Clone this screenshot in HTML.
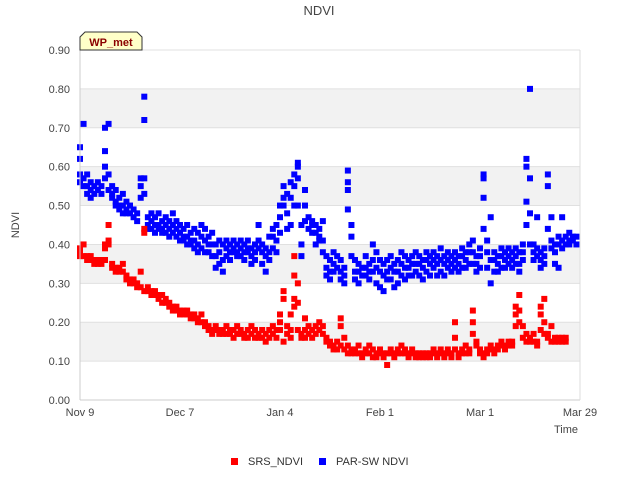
<!DOCTYPE html>
<html><head><meta charset="utf-8"><style>
body{margin:0;background:#fff;font-family:"Liberation Sans",sans-serif}
</style></head><body>
<svg width="640" height="480" xmlns="http://www.w3.org/2000/svg" style="font-family:'Liberation Sans',sans-serif">
<g id="bands"></g>
<g id="grid"></g>
<g id="yt"></g>
<g id="xt"></g>
<g id="marks"></g>
<line x1="80" y1="50" x2="80" y2="400" stroke="#ccc"/>
<line x1="80" y1="400" x2="580" y2="400" stroke="#ccc"/>
<line x1="580" y1="50" x2="580" y2="400" stroke="#ddd"/>
<text x="319" y="15" text-anchor="middle" font-size="13" fill="#444">NDVI</text>
<text transform="translate(19,225) rotate(-90)" text-anchor="middle" font-size="11" fill="#444">NDVI</text>
<text x="578" y="433" text-anchor="end" font-size="11" fill="#444">Time</text>
<g>
<path d="M80,50 L80,37 L85,32 L137,32 L142,37 L142,50 Z" fill="#ffffc8" stroke="#333"/>
<text x="111" y="46" text-anchor="middle" font-size="11" font-weight="bold" fill="#8b0000">WP_met</text>
</g>
<g>
<g><rect x="231" y="458" width="7" height="7" fill="#f00"/><text x="248" y="465" font-size="11" fill="#333">SRS_NDVI</text></g>
<g><rect x="319" y="458" width="7" height="7" fill="#00f"/><text x="336" y="465" font-size="11" fill="#333">PAR-SW NDVI</text></g>
</g>
</svg>
<script>
const yTicks=[0,0.1,0.2,0.3,0.4,0.5,0.6,0.7,0.8,0.9];
const xTickDays=[0,28,56,84,112,140];
const xTickLabels=["Nov 9","Dec 7","Jan 4","Feb 1","Mar 1","Mar 29"];
const parDays=[0,1,2,3,4,5,6,7,8,9,10,11,12,13,14,15,16,17,18,19,20,21,22,23,24,25,26,27,28,29,30,31,32,33,34,35,36,37,38,39,40,41,42,43,44,45,46,47,48,49,50,51,52,53,54,55,56,57,58,59,60,61,62,63,64,65,66,67,68,69,70,71,72,73,74,75,76,77,78,79,80,81,82,83,84,85,86,87,88,89,90,91,92,93,94,95,96,97,98,99,100,101,102,103,104,105,106,107,108,109,110,111,112,113,114,115,116,117,118,119,120,121,122,123,124,125,126,127,128,129,130,131,132,133,134,135,136,137,138,139,140];
const parVals=[[.65,.62,.58,.56],[.71,.57,.55],[.58,.55,.53],[.56,.54,.52],[.55,.53],[.56,.54],[.55,.53],[.70,.64,.60,.57],[.71,.58,.54],[.55,.53,.52],[.54,.51,.50],[.52,.50,.49],[.53,.50,.48],[.51,.49,.48],[.50,.48],[.49,.47],[.48,.46],[.57,.55,.52],[.78,.72,.57,.53],[.47,.45,.44],[.48,.46,.44],[.47,.45,.43],[.48,.45,.44],[.46,.44,.43],[.47,.45,.43],[.46,.44,.42],[.48,.45,.43],[.46,.44,.42],[.45,.43,.41],[.44,.42,.41],[.45,.42,.40],[.43,.41,.40],[.44,.41,.39],[.43,.40,.38],[.45,.42,.39],[.44,.41,.38],[.42,.40,.38],[.43,.40,.37],[.40,.37,.34],[.41,.38,.35],[.40,.36,.33],[.41,.39,.37],[.40,.38,.36],[.41,.39,.38],[.40,.38,.37],[.41,.39,.37],[.40,.38,.36],[.41,.39,.38],[.39,.37,.35],[.40,.38,.36],[.45,.41,.39],[.40,.38,.35],[.39,.37,.33],[.42,.38,.36],[.44,.42,.39],[.45,.41,.38],[.50,.47,.43],[.55,.52,.50],[.53,.48,.44],[.56,.52,.45],[.58,.55,.50],[.61,.60,.57,.50],[.45,.40,.37],[.54,.50,.46],[.47,.44],[.46,.45,.43],[.45,.43,.40],[.44,.42,.41],[.46,.41,.38],[.37,.34,.32],[.36,.33,.31],[.38,.35,.33],[.37,.34],[.36,.33,.31],[.34,.32,.30],[.59,.56,.54,.49],[.45,.42,.37],[.36,.33,.31],[.35,.33,.30],[.34,.32],[.37,.34,.32],[.35,.33,.31],[.40,.36,.33],[.38,.34,.30],[.36,.33,.29],[.35,.32,.28],[.36,.33,.31],[.37,.34,.31],[.35,.33,.29],[.36,.33,.30],[.38,.35,.32],[.37,.34,.31],[.36,.34,.32],[.37,.35,.32],[.38,.35,.33],[.37,.35,.32],[.36,.34,.31],[.38,.36,.33],[.37,.35,.32],[.38,.36,.34],[.37,.35,.32],[.39,.36,.33],[.37,.35,.32],[.38,.36,.34],[.37,.35,.33],[.38,.36,.34],[.37,.35,.33],[.39,.37,.34],[.38,.36,.34],[.40,.38,.35],[.41,.38,.35],[.37,.35,.33],[.39,.37,.34],[.58,.57,.52,.44],[.41,.38,.34],[.47,.36,.30],[.38,.36,.33],[.37,.35,.33],[.39,.37,.34],[.38,.36,.34],[.39,.37,.35],[.38,.36,.34],[.39,.37,.35],[.38,.35,.33],[.40,.38,.36],[.62,.60,.51,.45],[.80,.57,.48,.40],[.40,.38,.36],[.47,.39,.37],[.38,.36,.34],[.39,.37,.35],[.58,.55,.44],[.47,.41,.39],[.40,.38,.35],[.42,.40,.34],[.47,.41,.39],[.42,.40],[.43,.41,.40],[.42,.41],[.42,.40]];
const srsDays=[0,1,2,3,4,5,6,7,8,9,10,11,12,13,14,15,16,17,18,19,20,21,22,23,24,25,26,27,28,29,30,31,32,33,34,35,36,37,38,39,40,41,42,43,44,45,46,47,48,49,50,51,52,53,54,55,56,57,58,59,60,61,62,63,64,65,66,67,68,69,70,71,72,73,74,75,76,77,78,79,80,81,82,83,84,85,86,87,88,89,90,91,92,93,94,95,96,97,98,99,100,101,102,103,104,105,106,107,108,109,110,111,112,113,114,115,116,117,118,119,120,121,122,123,124,125,126,127,128,129,130,131,132,133,134,135,136,137,138,139,140];
const srsVals=[[.39,.38,.37],[.40,.37],[.37,.36],[.37,.36],[.36,.35],[.36,.35],[.36,.35],[.40,.39,.36],[.45,.41,.40],[.35,.34],[.34,.33],[.34,.33],[.35,.33],[.32,.31],[.31,.30],[.31,.30],[.30,.29],[.33,.29],[.44,.43,.28],[.29,.28],[.28,.27],[.28,.27],[.27,.26],[.27,.25],[.26,.25],[.25,.24],[.24,.23],[.24,.23],[.23,.22],[.23,.22],[.23,.22],[.22,.21],[.22,.21],[.21,.20],[.22,.20],[.20,.19],[.19,.18],[.18,.17],[.19,.18],[.18,.17],[.18,.17],[.19,.17],[.18,.17],[.18,.16],[.19,.17],[.18,.17],[.17,.16],[.18,.16],[.19,.17],[.18,.16],[.17,.16],[.18,.16],[.17,.15],[.18,.16],[.19,.17],[.18,.16],[.22,.20,.18],[.28,.26,.15],[.19,.17],[.22,.18,.16],[.37,.32,.26,.24],[.30,.25,.18],[.17,.16],[.21,.18,.16],[.19,.17],[.18,.16],[.19,.17],[.20,.18],[.19,.17],[.16,.15],[.15,.14],[.14,.13],[.15,.13],[.21,.19,.14],[.16,.13],[.14,.12],[.13,.12],[.13,.12],[.14,.12],[.12,.11],[.13,.12],[.14,.12],[.13,.11],[.12,.11],[.13,.12],[.12,.11],[.09,.12],[.13,.12],[.12,.11],[.13,.12],[.14,.12],[.13,.12],[.12,.11],[.13,.12],[.12,.11],[.12,.11],[.12,.11],[.12,.11],[.12,.11],[.13,.12],[.12,.11],[.13,.12],[.12,.11],[.13,.12],[.12,.11],[.20,.16,.13],[.12,.11],[.13,.12],[.14,.12],[.13,.12],[.23,.20,.17],[.15,.14],[.13,.12],[.12,.11],[.13,.12],[.14,.13],[.13,.12],[.14,.13],[.15,.14],[.14,.13],[.15,.14],[.15,.14],[.24,.22,.19],[.27,.23,.20],[.19,.16],[.17,.15],[.16,.15],[.17,.15],[.15,.14],[.24,.22,.18],[.26,.20,.17],[.17,.16],[.19,.15],[.16,.15],[.16,.15],[.16,.15],[.16,.15]];
const NS="http://www.w3.org/2000/svg";
const X0=80,X1=580,Y0=400,Y1=50,DMAX=140,VMAX=0.9;
function xs(d){return X0+(X1-X0)*d/DMAX;}
function ys(v){return Y0-(Y0-Y1)*v/VMAX;}
function mk(tag,attrs,parent){const e=document.createElementNS(NS,tag);for(const k in attrs)e.setAttribute(k,attrs[k]);parent.appendChild(e);return e;}
const bands=document.getElementById('bands'),grid=document.getElementById('grid'),yt=document.getElementById('yt'),xt=document.getElementById('xt'),marks=document.getElementById('marks');
for(let i=0;i<yTicks.length-1;i++){
  if(i%2===1){const r=mk('rect',{x:X0,y:ys(yTicks[i+1]),width:X1-X0,height:ys(yTicks[i])-ys(yTicks[i+1]),fill:'#f2f2f2'},bands);
  
  }
}
yTicks.forEach(v=>{
  const l=mk('line',{x1:X0,x2:X1,y1:ys(v),y2:ys(v),stroke:'#e0e0e0'},grid);
  
  
  const t=mk('text',{x:X0-10,y:ys(v)+4,'text-anchor':'end','font-size':'11',fill:'#444'},yt);
  
  
  t.textContent=v.toFixed(2);
});
xTickDays.forEach((d,i)=>{
  const t=mk('text',{x:xs(d),y:Y0+16,'text-anchor':'middle','font-size':'11',fill:'#444'},xt);
  
  
  t.textContent=xTickLabels[i];
});
function drawSeries(days,vals,color,name){
  const g=mk('g',{},marks);
  
  
  days.forEach((d,i)=>{(vals[i]||[]).forEach(v=>{
    const r=mk('rect',{x:xs(d)-3,y:ys(v)-3,width:6,height:6,fill:color},g);
    
    
  });});
}
drawSeries(parDays,parVals,'#00f','series-par-sw-ndvi');
drawSeries(srsDays,srsVals,'#f00','series-srs-ndvi');
</script>
</body></html>
